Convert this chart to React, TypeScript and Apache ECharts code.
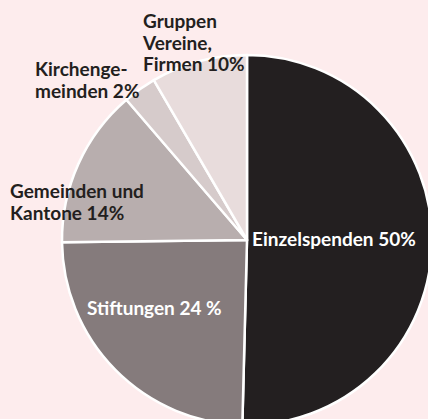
import React, { useEffect, useRef } from "react";
import * as echarts from "echarts";

// Slice names and their printed labels
const categories = [
  "Einzelspenden",
  "Stiftungen",
  "Gemeinden und Kantone",
  "Kirchengemeinden",
  "Gruppen Vereine, Firmen",
];
const labelTexts = [
  "Einzelspenden 50%",
  "Stiftungen 24 %",
  "Gemeinden und\nKantone 14%",
  "Kirchenge-\nmeinden 2%",
  "Gruppen\nVereine,\nFirmen 10%",
];
// Slice sizes as drawn in the picture (percent of the circle)
const values = [50.4, 24.4, 13.9, 2.9, 8.4];

// styling / layout (not data)
const colors = ["#231f20", "#857b7c", "#b8aeae", "#d6cbcb", "#e8dcdc"];
const labelColors = ["#ffffff", "#ffffff", "#231f20", "#231f20", "#231f20"];
const labelPos: [number, number][] = [
  [252, 228],
  [87, 297],
  [10, 180],
  [35, 58],
  [143, 10],
];

export default function App() {
  const ref = useRef<HTMLDivElement>(null);
  useEffect(() => {
    document.body.style.margin = "0";
    const chart = echarts.init(ref.current!, undefined, { renderer: "svg" });
    chart.setOption({
      animation: false,
      backgroundColor: "#fdeced",
      series: [
        {
          type: "pie",
          center: [247, 240],
          radius: 185,
          startAngle: 90,
          clockwise: true,
          avoidLabelOverlap: false,
          silent: true,
          itemStyle: { borderColor: "#ffffff", borderWidth: 2.5 },
          label: {
            show: true,
            position: "inside",
            fontFamily: "Lato",
            fontWeight: "bold",
            fontSize: 19,
            lineHeight: 21.5,
            align: "left",
          },
          labelLine: { show: false },
          labelLayout: (p: any) => ({
            x: labelPos[p.dataIndex][0],
            y: labelPos[p.dataIndex][1],
            align: "left",
            verticalAlign: "top",
          }),
          data: categories.map((name, i) => ({
            name,
            value: values[i],
            itemStyle: { color: colors[i] },
            label: { formatter: labelTexts[i], color: labelColors[i] },
          })),
        },
      ],
    });
    return () => chart.dispose();
  }, []);
  return <div ref={ref} style={{ width: 428, height: 419 }} />;
}
